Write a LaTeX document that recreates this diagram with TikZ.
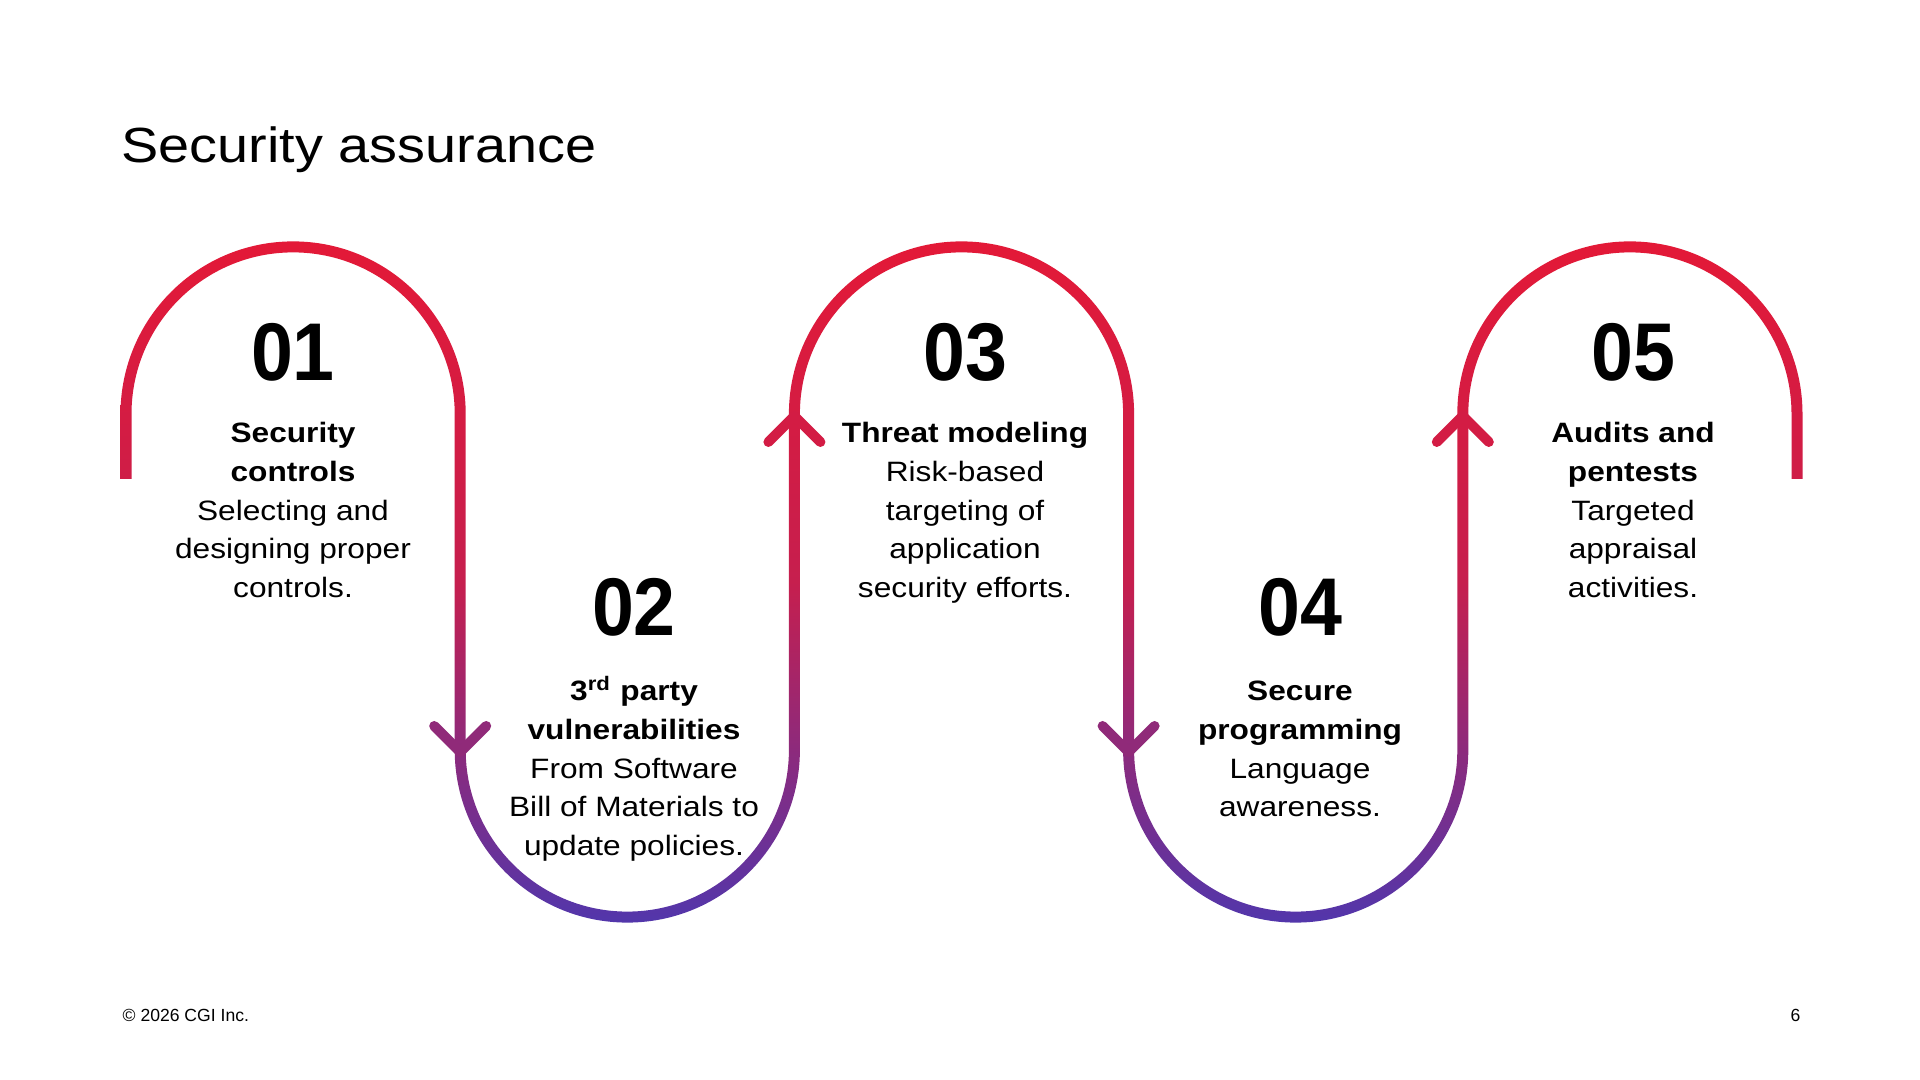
\documentclass[tikz,border=0pt]{standalone}
\usepackage{xcolor}
\usepackage{fontspec}
\setmainfont{Liberation Sans}[FakeStretch=1.13]
\newfontfamily\numfont{Liberation Sans}[FakeStretch=0.92]
\newfontfamily\footfont{Liberation Sans}
\definecolor{cgired}{HTML}{E31937}
\definecolor{cgipurple}{HTML}{5236AB}
\usetikzlibrary{positioning}
\tikzset{
	stepnum/.style={font=\numfont\fontsize{23.3}{28}\selectfont\bfseries, inner sep=0pt, anchor=base},
	stepdesc/.style={font=\fontsize{7.97}{11.0}\selectfont, align=center, inner sep=0pt},
	chevron/.style={line width=0.1cm, line cap=round, line join=round}
}

\begin{document}
\begin{tikzpicture}
				\fill[white] (0,0) rectangle (19.2,10.8);
				\useasboundingbox (0,0) rectangle (19.2,10.8);
		
				\node[anchor=base west, inner sep=0pt, font=\fontsize{14.05}{16}\selectfont] (title) at (1.21,9.17) {Security assurance};
		
				% snake band, outline of the thick line
				\shade[top color=cgired, bottom color=cgipurple, middle color=cgired!80!cgipurple]
					(1.205,6.01) -- ++(0,0.65) arc[start angle=180, end angle=0, radius=1.726]
					-- ++(0,-3.36) arc[start angle=180, end angle=360, radius=1.616]
					-- ++(0,3.36) arc[start angle=180, end angle=0, radius=1.726]
					-- ++(0,-3.36) arc[start angle=180, end angle=360, radius=1.616]
					-- ++(0,3.36) arc[start angle=180, end angle=0, radius=1.726]
					-- ++(0,-0.65) -- ++(-0.11,0) -- ++(0,0.65)
					arc[start angle=0, end angle=180, radius=1.616]
					-- ++(0,-3.36) arc[start angle=360, end angle=180, radius=1.726]
					-- ++(0,3.36) arc[start angle=0, end angle=180, radius=1.616]
					-- ++(0,-3.36) arc[start angle=360, end angle=180, radius=1.726]
					-- ++(0,3.36) arc[start angle=0, end angle=180, radius=1.616]
					-- ++(0,-0.65) -- cycle;
		
				% arrow heads
				\draw[chevron, cgired!43!cgipurple] (4.342,3.54) -- ++(0.26,-0.26) -- ++(0.26,0.26);
				\draw[chevron, cgired!89!cgipurple] (7.684,6.38) -- ++(0.26,0.26) -- ++(0.26,-0.26);
				\draw[chevron, cgired!43!cgipurple] (11.026,3.54) -- ++(0.26,-0.26) -- ++(0.26,0.26);
				\draw[chevron, cgired!89!cgipurple] (14.368,6.38) -- ++(0.26,0.26) -- ++(0.26,-0.26);
		
				\node[stepnum] (n1) at (2.93,6.99) {01};
				\node[stepnum] (n2) at (6.34,4.44) {02};
				\node[stepnum] (n3) at (9.65,6.99) {03};
				\node[stepnum] (n4) at (13.00,4.44) {04};
				\node[stepnum] (n5) at (16.33,6.99) {05};
		
				\node[stepdesc, below=2.8mm of n1] (t1) {\rule{0pt}{9pt}\textbf{Security}\\\textbf{controls}\\Selecting and\\designing proper\\controls.};
				\node[stepdesc, below=3.1mm of n2] (t2) {\rule{0pt}{9pt}\textbf{3\textsuperscript{rd} party}\\\textbf{vulnerabilities}\\From Software\\Bill of Materials to\\update policies.};
				\node[stepdesc, below=2.8mm of n3] (t3) {\rule{0pt}{9pt}\textbf{Threat modeling}\\Risk-based\\targeting of\\application\\security efforts.};
				\node[stepdesc, below=3.1mm of n4] (t4) {\rule{0pt}{9pt}\textbf{Secure}\\\textbf{programming}\\Language\\awareness.};
				\node[stepdesc, below=2.8mm of n5] (t5) {\rule{0pt}{9pt}\textbf{Audits and}\\\textbf{pentests}\\Targeted\\appraisal\\activities.};
		
				\node[anchor=base west, inner sep=0pt, font=\footfont\fontsize{5}{6}\selectfont] (copy) at (1.22,0.58) {© 2026 CGI Inc.};
				\node[anchor=base east, inner sep=0pt, font=\footfont\fontsize{5}{6}\selectfont] (page) at (18.01,0.58) {6};
			\end{tikzpicture}
\end{document}
